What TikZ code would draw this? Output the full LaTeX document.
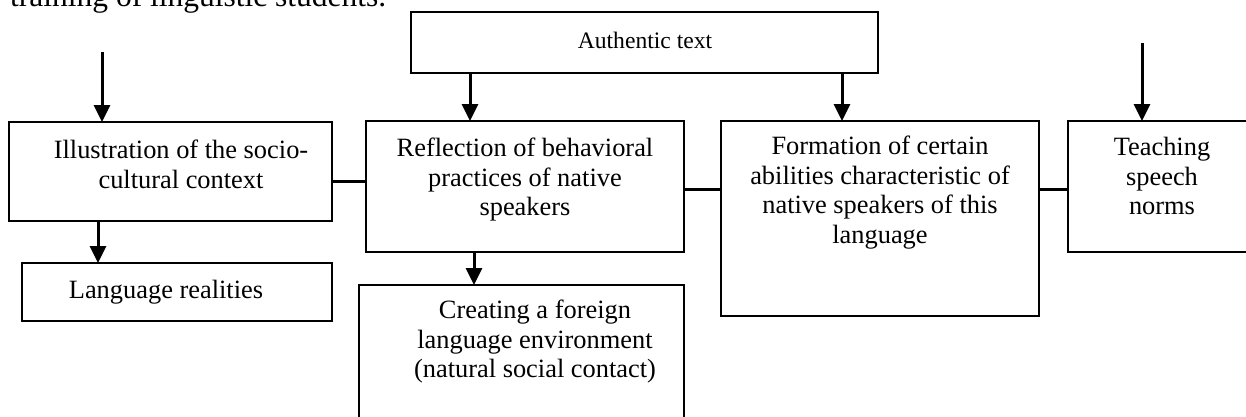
\documentclass[tikz,border=0pt]{standalone}
\usepackage{fontspec}
\setmainfont{Liberation Serif}
\usetikzlibrary{arrows.meta}
\begin{document}
\begin{tikzpicture}[x=1bp,y=-1bp,
  box/.style={draw, line width=2bp, inner sep=0pt, outer sep=0pt, rectangle},
  lbl/.style={anchor=north, inner sep=0pt, align=center, font=\fontsize{26.5}{30}\selectfont},
  arr/.style={line width=3bp, -{Triangle[width=16bp,length=17bp]}},
  conn/.style={line width=3bp}]
\useasboundingbox (0,0) rectangle (1246,416);
\clip (0,0) rectangle (1246,416);

% top (cut) line of the page text
\node[anchor=base west, inner sep=0pt, font=\fontsize{31.6}{36}\selectfont] (top) at (10,6) {training of linguistic students.};

% boxes
\node[box, minimum width=467bp, minimum height=61bp] (auth) at (644.5,42.5) {};
\node[box, minimum width=323bp, minimum height=99bp] (ill) at (170.5,171.5) {};
\node[box, minimum width=318bp, minimum height=131bp] (refl) at (525,186.5) {};
\node[box, minimum width=318bp, minimum height=195bp] (form) at (880,218.5) {};
\node[box, minimum width=188bp, minimum height=131bp] (teach) at (1162,186.5) {};
\node[box, minimum width=310bp, minimum height=58bp] (lang) at (177,292) {};
\node[box, minimum width=325bp, minimum height=140bp] (creat) at (521.5,355) {};

% texts
\node[lbl, font=\fontsize{23.7}{27}\selectfont] (tauth) at (645,29.4) {\strut Authentic text};
\node[lbl] (till) at (181,137) {\strut Illustration of the socio-\\cultural context};
\node[lbl] (trefl) at (525,135) {\strut Reflection of behavioral\\practices of native\\speakers};
\node[lbl] (tform) at (880,133) {\strut Formation of certain\\abilities characteristic of\\native speakers of this\\language};
\node[lbl] (tteach) at (1162,134) {\strut Teaching\\speech\\norms};
\node[lbl] (tlang) at (166,277) {\strut Language realities};
\node[lbl] (tcreat) at (535,297) {\strut Creating a foreign\\language environment\\(natural social contact)};

% helper coordinates
\coordinate (s1) at (102,52);
\coordinate (s2) at (1142,43);
\coordinate (xa) at (470,0);
\coordinate (xb) at (842,0);
\coordinate (xc) at (98,0);
\coordinate (xd) at (474,0);
\coordinate (ya) at (0,181);
\coordinate (yb) at (0,189);

% arrows
\draw[arr] (s1) -- (ill.north -| s1);
\draw[arr] (s2) -- (teach.north -| s2);
\draw[arr] (auth.south -| xa) -- (refl.north -| xa);
\draw[arr] (auth.south -| xb) -- (form.north -| xb);
\draw[arr] (ill.south -| xc) -- (lang.north -| xc);
\draw[arr] (refl.south -| xd) -- (creat.north -| xd);

% plain connectors
\draw[conn] (ill.east |- ya) -- (refl.west |- ya);
\draw[conn] (refl.east |- yb) -- (form.west |- yb);
\draw[conn] (form.east |- yb) -- (teach.west |- yb);
\end{tikzpicture}
\end{document}
